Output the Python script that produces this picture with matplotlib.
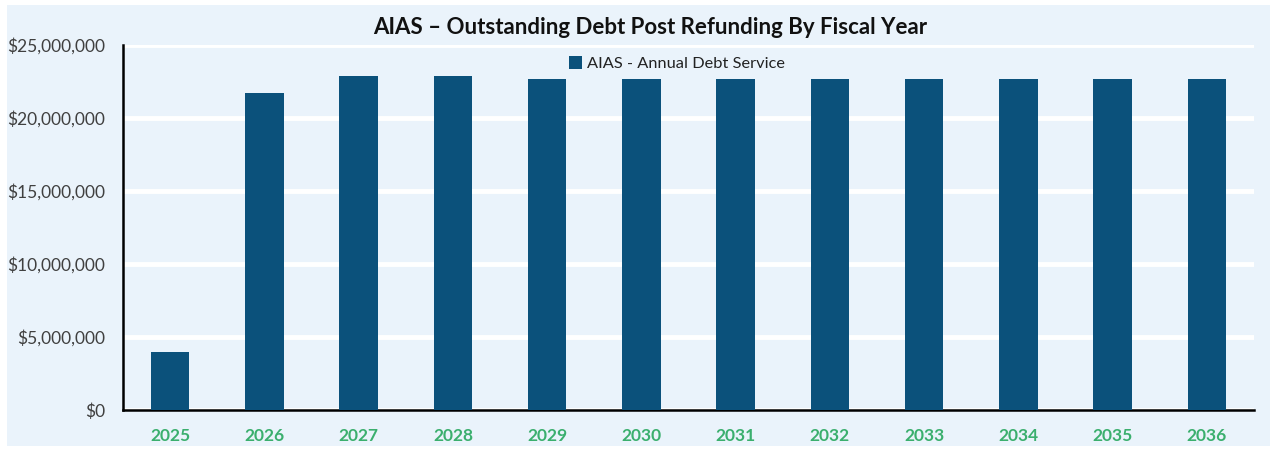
import numpy as np
import matplotlib.pyplot as plt
from matplotlib.patches import Rectangle
from matplotlib.ticker import FuncFormatter, MultipleLocator

years = ['2025', '2026', '2027', '2028', '2029', '2030',
         '2031', '2032', '2033', '2034', '2035', '2036']
debt_service = [3950000, 21700000, 22900000, 22900000, 22700000, 22700000,
                22700000, 22700000, 22700000, 22650000, 22700000, 22700000]

plt.rcParams['font.family'] = ['Lato', 'DejaVu Sans']

bg = '#EAF3FB'
bar_color = '#0B517B'

fig = plt.figure(figsize=(12.75, 4.49), dpi=100)
fig.patch.set_facecolor('white')
# light blue chart area behind everything
fig.patches.append(Rectangle((7 / 1275, 3 / 449), 1263 / 1275, 441 / 449,
                             transform=fig.transFigure, facecolor=bg,
                             edgecolor='none', zorder=-5))

ax = fig.add_axes([123 / 1275, 1 - 410 / 449, 1131 / 1275, 365 / 449])
ax.set_facecolor(bg)

x = np.arange(len(years))
ax.bar(x, debt_service, width=0.41, color=bar_color, zorder=3,
       label='AIAS - Annual Debt Service')

ax.set_xlim(-0.5, len(years) - 0.5)
ax.set_ylim(0, 25000000)
ax.yaxis.set_major_locator(MultipleLocator(5000000))
ax.yaxis.set_major_formatter(FuncFormatter(lambda v, p: '${:,.0f}'.format(v)))
ax.grid(axis='y', color='white', linewidth=3.5, zorder=1)
ax.set_axisbelow(True)

ax.set_xticks(x)
ax.set_xticklabels(years, color='#3BAF6E', fontweight='bold', fontsize=12.5)
ax.tick_params(axis='y', labelsize=12.5, labelcolor='#404040', length=0, pad=13)
ax.tick_params(axis='x', length=0, pad=13)

for s in ['top', 'right']:
    ax.spines[s].set_visible(False)
ax.spines['left'].set_linewidth(1.8)
ax.spines['bottom'].set_linewidth(1.8)

fig.text(0.51, 0.938, 'AIAS \u2013 Outstanding Debt Post Refunding By Fiscal Year',
         ha='center', va='center', fontsize=16, fontweight='bold', color='#111111')

leg = ax.legend(loc='upper center', bbox_to_anchor=(0.49, 1.0), frameon=False,
                fontsize=11.8, handlelength=0.8, handleheight=0.8, handletextpad=0.3,
                borderaxespad=0.3)
for t in leg.get_texts():
    t.set_color('#222222')

fig.savefig('out.png', dpi=100, facecolor='white')
